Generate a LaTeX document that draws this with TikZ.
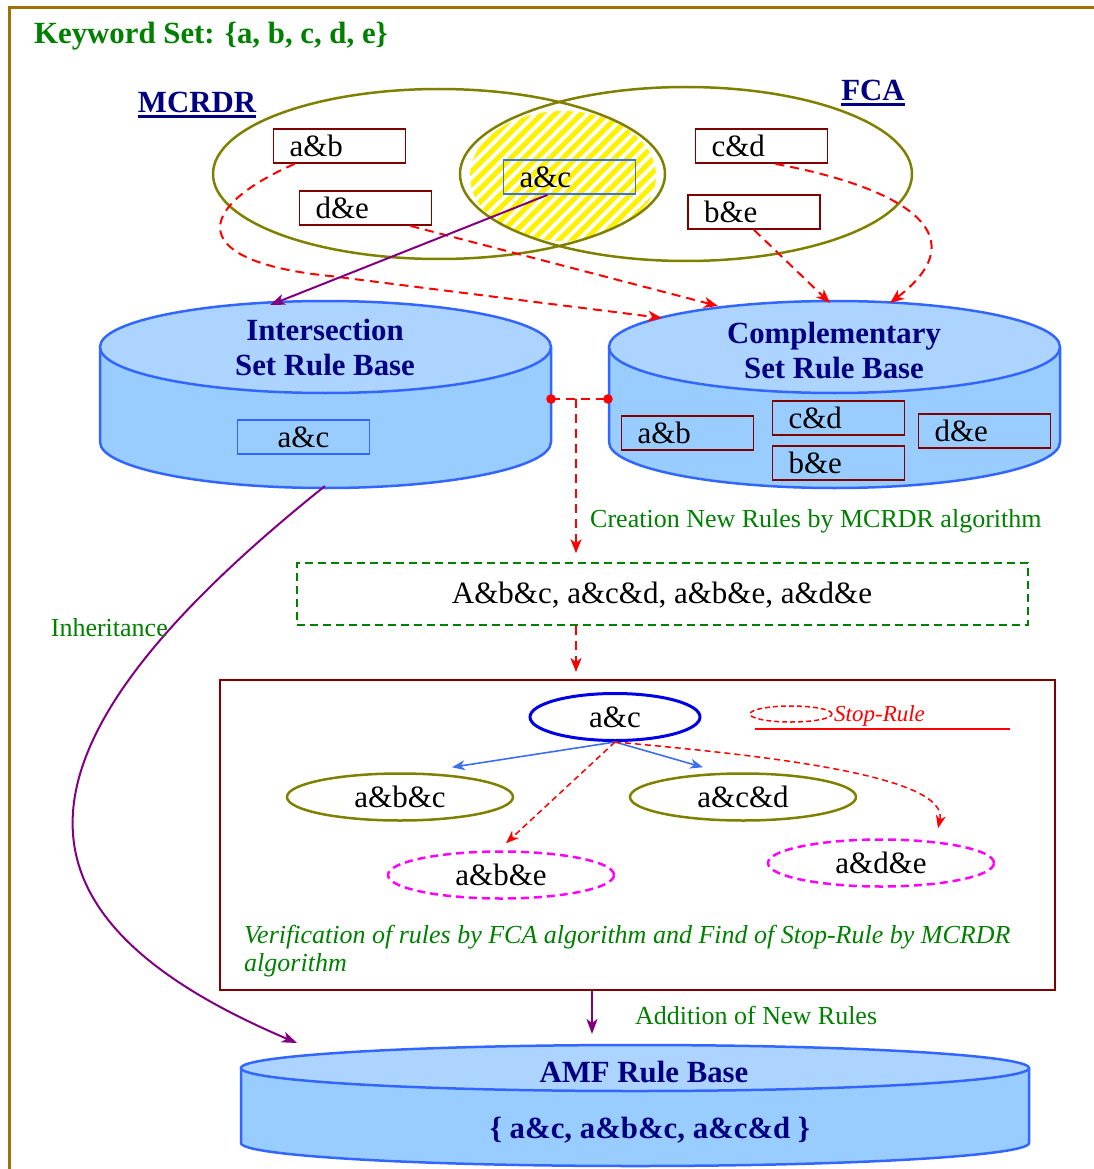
\documentclass[tikz,border=0pt]{standalone}
\usepackage{fontspec}
\setmainfont{Liberation Serif}
\usetikzlibrary{arrows.meta,shapes.geometric}
\definecolor{frameC}{RGB}{160,112,10}
\definecolor{oliveC}{RGB}{128,128,0}
\definecolor{navyC}{RGB}{0,0,128}
\definecolor{ruleRed}{RGB}{128,0,0}
\definecolor{cylLine}{RGB}{51,102,255}
\definecolor{cylTop}{RGB}{172,212,255}
\definecolor{cylBody}{RGB}{153,204,255}
\definecolor{greenC}{RGB}{0,128,0}
\definecolor{purpleC}{RGB}{128,0,128}
\definecolor{redC}{RGB}{255,0,0}
\definecolor{blueArr}{RGB}{60,110,240}
\definecolor{magC}{RGB}{255,0,255}
\definecolor{blueEll}{RGB}{0,0,230}
\newcommand\rlfont{\fontsize{31}{35}\selectfont}
\newcommand\hdfont{\fontsize{30.8}{35}\selectfont\bfseries}
\newcommand\lblfont{\fontsize{26}{30}\selectfont}
\newcommand\cylshape[5]{%
  \fill[cylBody] ({#1-#2},#3) -- ({#1-#2},#4) arc[start angle=180,end angle=0,x radius=#2,y radius=#5] -- ({#1+#2},#3) -- cycle;
  \draw[cylLine,line width=2.5pt] ({#1-#2},#3) -- ({#1-#2},#4) arc[start angle=180,end angle=0,x radius=#2,y radius=#5] -- ({#1+#2},#3);
  \draw[cylLine,line width=2.5pt,fill=cylTop] (#1,#3) ellipse[x radius=#2,y radius=#5];
}
\tikzset{
  rulebox/.style={draw=ruleRed, line width=1.8pt, minimum height=34pt, text width=100pt, inner xsep=16pt, inner ysep=0pt, align=left, font=\rlfont},
  hd/.style={font=\hdfont, text=navyC, inner sep=0pt},
  lbl/.style={font=\lblfont, text=greenC, inner sep=0pt},
  reddash/.style={draw=redC, line width=2pt, dash pattern=on 9pt off 6pt, -{Stealth[length=14pt,width=11pt,inset=4pt]}},
  reddashs/.style={draw=redC, line width=1.5pt, dash pattern=on 6pt off 4pt, -{Stealth[length=13pt,width=10pt,inset=4pt]}},
  purp/.style={draw=purpleC, line width=2pt, -{Stealth[length=15pt,width=11pt,inset=4pt]}},
  bluearr/.style={draw=blueArr, line width=1.6pt, -{Stealth[length=13pt,width=10pt,inset=4pt]}},
  rellipse/.style={ellipse, line width=2.5pt, minimum width=226pt, minimum height=47pt, inner sep=0pt, font=\rlfont},
}
\begin{document}
\begin{tikzpicture}[x=1pt,y=-1pt]
\useasboundingbox (0,0) rectangle (1094,1169);
% frame
\draw[frameC, line width=3pt] (9,1180) -- (9,8) -- (1100,8);
\node[anchor=base west, font=\hdfont, text=greenC, inner sep=0pt] (kw) at (34,44) {Keyword Set: \{a, b, c, d, e\}};
% hatched intersection
\begin{scope}
  \clip (439,174) ellipse[x radius=226,y radius=85];
  \clip (686,174) ellipse[x radius=226,y radius=87];
  \clip (563,176) ellipse[x radius=93,y radius=65];
  \foreach \i in {-330,-317,...,330} {
    \draw[yellow, line width=5pt] ({563+\i-110},286) -- ({563+\i+110},66);
  }
\end{scope}
\draw[oliveC, line width=2.5pt] (439,174) ellipse[x radius=226,y radius=85];
\draw[oliveC, line width=2.5pt] (686,174) ellipse[x radius=226,y radius=87];
% labels
\node[hd] (mcrdr) at (197,102) {MCRDR};
\draw[navyC, line width=3pt] ([yshift=-4pt]mcrdr.base west) -- ([yshift=-4pt]mcrdr.base east);
\node[hd] (fca) at (873,90) {FCA};
\draw[navyC, line width=3pt] ([yshift=-4pt]fca.base west) -- ([yshift=-4pt]fca.base east);
% top boxes
\node[rulebox] (ab1) at (339.5,146) {a\&b};
\node[rulebox] (de1) at (365.5,208) {d\&e};
\node[rulebox, draw=blueArr] (ac1) at (569.5,177) {a\&c};
\node[rulebox] (cd1) at (761.5,146) {c\&d};
\node[rulebox] (be1) at (754,212) {b\&e};
% cylinders
\cylshape{325.5}{225.5}{347}{442}{46}
\cylshape{834.5}{225.5}{347}{442}{46}
\cylshape{635}{394}{1068}{1143}{23}
\node[hd, anchor=base] (isrT1) at (325,340) {Intersection};
\node[hd, anchor=base] (isrT2) at (325,375) {Set Rule Base};
\node[hd, anchor=base] (csrT1) at (834,343) {Complementary};
\node[hd, anchor=base] (csrT2) at (834,378) {Set Rule Base};
\node[hd, anchor=base] (amfT) at (644,1082) {AMF Rule Base};
\node[hd, anchor=base] (amfS) at (650,1138) {\{ a\&c, a\&b\&c, a\&c\&d \}};
\node[rulebox, draw=cylLine, align=center] (ac2) at (303.5,437) {a\&c};
\node[rulebox] (ab2) at (687.5,433) {a\&b};
\node[rulebox] (cd2) at (838.5,418) {c\&d};
\node[rulebox] (be2) at (838.5,463) {b\&e};
\node[rulebox] (de2) at (984.5,431) {d\&e};
% coordinates on cylinders
\coordinate (isrTop) at (270,305);
\coordinate (isrBot) at (325,486);
\coordinate (isrR) at (551,399);
\coordinate (csrL) at (608,399);
\coordinate (split) at (576,399);
\coordinate (csrA) at (662,318);
\coordinate (csrB) at (718,306);
\coordinate (csrC) at (830,303);
\coordinate (csrD) at (890,303);
\coordinate (amfTip) at (297,1043);
\coordinate (addx) at (592,1034);
% top dashed connectors
\draw[reddash] ([xshift=22pt]ab1.south west) .. controls (190,210) and (190,262) .. (330,276) -- (csrA);
\draw[reddash] ([xshift=-22pt]de1.south east) -- (csrB);
\draw[reddash] (be1.south) -- (csrC);
\draw[reddash] ([xshift=14pt]cd1.south) .. controls (890,185) and (985,230) .. (csrD);
\draw[purp] ([xshift=-22pt]ac1.south) -- (isrTop);
% middle
\draw[redC, line width=2pt, dash pattern=on 9pt off 6pt] (isrR) -- (csrL);
\fill[redC] (isrR) circle[radius=4.8pt];
\fill[redC] (csrL) circle[radius=4.8pt];
\node[draw=greenC, line width=1.5pt, dash pattern=on 8pt off 5pt, minimum width=731pt, minimum height=62pt, inner sep=0pt] (newrules) at (662.5,594) {};
\node[anchor=base, font=\rlfont, inner sep=0pt] (newtxt) at (662,603) {A\&b\&c, a\&c\&d, a\&b\&e, a\&d\&e};
\draw[reddash] (split) -- ([yshift=9pt]split |- newrules.north);
\node[lbl, anchor=base west] (creation) at (590,527) {Creation New Rules by MCRDR algorithm};
\node[draw=ruleRed, line width=2pt, minimum width=835pt, minimum height=310pt, inner sep=0pt] (verbox) at (637.5,835) {};
\draw[reddash] (newrules.south -| split) -- ([yshift=7pt]verbox.north -| split);
% inside verification box
\node[rellipse, draw=blueEll, line width=3pt, minimum width=170pt] (acE) at (615,717) {a\&c};
\node[rellipse, draw=oliveC] (abcE) at (400,797) {a\&b\&c};
\node[rellipse, draw=oliveC] (acdE) at (743,797) {a\&c\&d};
\node[rellipse, draw=magC, dash pattern=on 8pt off 5pt] (abeE) at (501,875) {a\&b\&e};
\node[rellipse, draw=magC, dash pattern=on 8pt off 5pt] (adeE) at (881,863) {a\&d\&e};
\draw[bluearr] (acE.south) -- ([shift={(52,-5)}]abcE.north);
\draw[bluearr] (acE.south) -- ([shift={(-40,-5)}]acdE.north);
\draw[reddashs] (acE.south) -- ([shift={(5,-7)}]abeE.north);
\draw[reddashs] (acE.south) .. controls (760,755) and (950,775) .. ([shift={(57,-10)}]adeE.north);
\node[ellipse, draw=redC, line width=1.5pt, dash pattern=on 5pt off 3pt, minimum width=82pt, minimum height=16pt, inner sep=0pt] (stopE) at (791,714) {};
\node[anchor=base west, font=\fontsize{23}{27}\selectfont\itshape, text=redC, inner sep=0pt] (stopT) at (834,721) {Stop-Rule};
\coordinate (ulA) at (755,729);
\coordinate (ulB) at (1010,729);
\draw[redC, line width=1.5pt] (ulA) -- (ulB);
\node[anchor=base west, font=\lblfont\itshape, text=greenC, inner sep=0pt] (verT1) at (244,943) {Verification of rules by FCA algorithm and Find of Stop-Rule by MCRDR};
\node[anchor=base west, font=\lblfont\itshape, text=greenC, inner sep=0pt] (verT2) at (244,971) {algorithm};
% bottom
\draw[purp] (verbox.south -| addx) -- (addx);
\node[lbl, anchor=base west] (addition) at (635,1024) {Addition of New Rules};
\draw[purp] (isrBot) .. controls (-5,750) and (-5,915) .. (amfTip);
\node[lbl, anchor=base east] (inherit) at (168,636) {Inheritance};
\end{tikzpicture}
\end{document}
